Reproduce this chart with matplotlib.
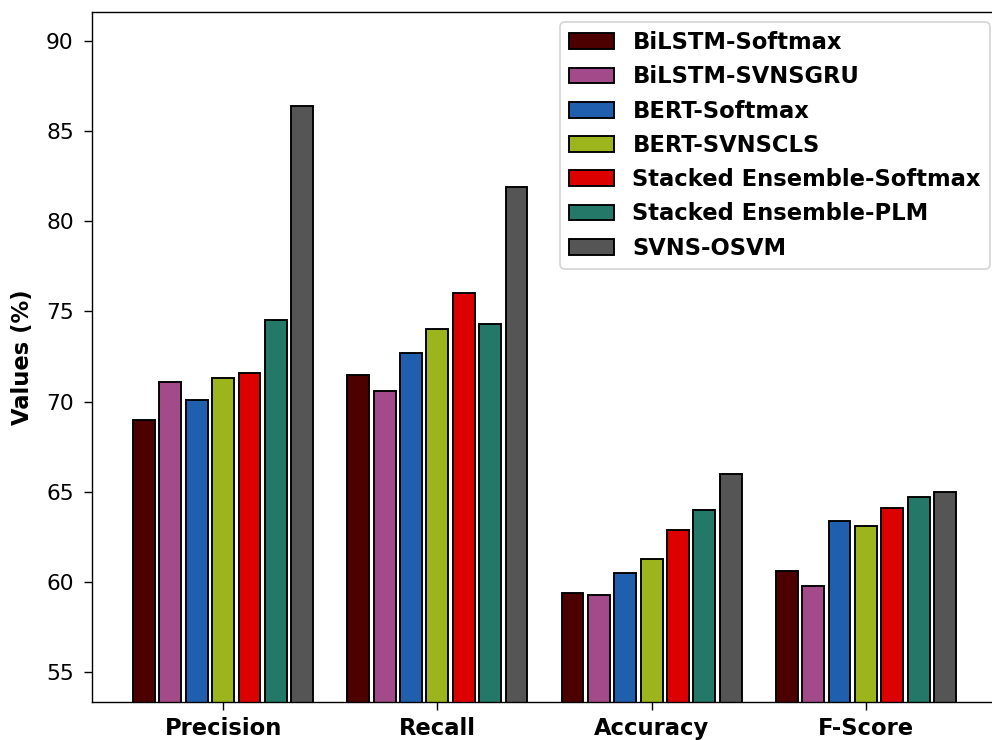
import numpy as np
import matplotlib
matplotlib.use("Agg")
import matplotlib.pyplot as plt

categories = ["Precision", "Recall", "Accuracy", "F-Score"]
models = [
    "BiLSTM-Softmax",
    "BiLSTM-SVNSGRU",
    "BERT-Softmax",
    "BERT-SVNSCLS",
    "Stacked Ensemble-Softmax",
    "Stacked Ensemble-PLM",
    "SVNS-OSVM",
]
bilstm_softmax = [69.0, 71.5, 59.4, 60.6]
bilstm_svnsgru = [71.1, 70.6, 59.3, 59.8]
bert_softmax = [70.1, 72.7, 60.5, 63.4]
bert_svnscls = [71.3, 74.0, 61.3, 63.1]
stacked_softmax = [71.6, 76.0, 62.9, 64.1]
stacked_plm = [74.5, 74.3, 64.0, 64.7]
svns_osvm = [86.4, 81.9, 66.0, 65.0]

series = [bilstm_softmax, bilstm_svnsgru, bert_softmax, bert_svnscls,
          stacked_softmax, stacked_plm, svns_osvm]
colors = ["#4d0000", "#a34a8a", "#1f5fae", "#9db51d", "#dd0000", "#237867", "#555555"]

DPI = 125
fig = plt.figure(figsize=(992 / DPI, 740 / DPI), dpi=DPI)
ax = fig.add_axes([92 / 992, 1 - 702 / 740, (997 - 92) / 992, (702 - 12) / 740])

x = np.arange(len(categories))
pitch = 0.123
width = 0.102
for i, (name, vals, c) in enumerate(zip(models, series, colors)):
    ax.bar(x + (i - 3) * pitch, vals, width, label=name, color=c,
           edgecolor="black", linewidth=1.1)

ax.set_xticks(x)
ax.set_xticklabels(categories, fontsize=13, fontweight="bold")
ax.tick_params(axis="x", length=4.5, pad=4)
ax.tick_params(axis="y", labelsize=12.5, length=4.5, pad=6)
ax.set_ylabel("Values (%)", fontsize=13, fontweight="bold")
ax.yaxis.set_label_coords(-0.064, 0.5)
ax.set_ylim(53.35, 91.6)
ax.set_yticks([55, 60, 65, 70, 75, 80, 85, 90])

leg = ax.legend(loc="upper right", bbox_to_anchor=(990 / 992, 1 - 22 / 740),
                bbox_transform=fig.transFigure, borderaxespad=0,
                prop={"size": 13, "weight": "bold"})

fig.savefig("out.png", dpi=DPI)
